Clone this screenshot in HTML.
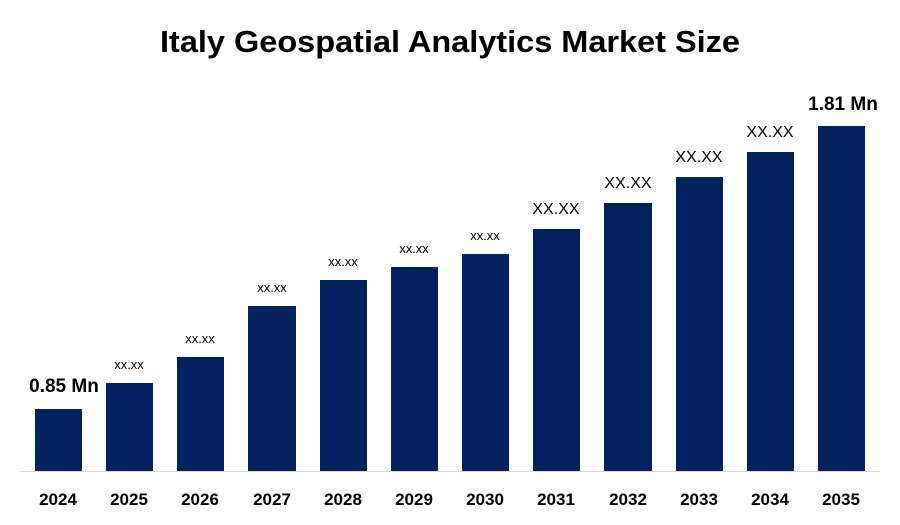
<!DOCTYPE html>
<html><head><meta charset="utf-8"><style>
html,body{margin:0;padding:0;background:#fff;}
svg{display:block;font-family:"Liberation Sans",Arial,sans-serif;}
</style></head><body>
<svg width="900" height="525" viewBox="0 0 900 525">
<rect width="900" height="525" fill="#fff"/>
<text x="450" y="52" text-anchor="middle" font-size="31" font-weight="bold" fill="#000" textLength="580" lengthAdjust="spacingAndGlyphs">Italy Geospatial Analytics Market Size</text>
<g fill="#03215E">
<rect x="35" y="409" width="47" height="62"/>
<rect x="106" y="383" width="47" height="88"/>
<rect x="177" y="357" width="47" height="114"/>
<rect x="248" y="306" width="48" height="165"/>
<rect x="320" y="280" width="47" height="191"/>
<rect x="391" y="267" width="47" height="204"/>
<rect x="462" y="254" width="47" height="217"/>
<rect x="533" y="229" width="47" height="242"/>
<rect x="604" y="203" width="48" height="268"/>
<rect x="676" y="177" width="47" height="294"/>
<rect x="747" y="152" width="47" height="319"/>
<rect x="818" y="126" width="47" height="345"/>
</g>
<line x1="20" y1="471.5" x2="880" y2="471.5" stroke="#d9d9d9" stroke-width="1"/>
<g font-size="17" font-weight="bold" text-anchor="middle" fill="#000">
<text x="58" y="505">2024</text><text x="129" y="505">2025</text><text x="200" y="505">2026</text>
<text x="272" y="505">2027</text><text x="343" y="505">2028</text><text x="414" y="505">2029</text>
<text x="485" y="505">2030</text><text x="556" y="505">2031</text><text x="628" y="505">2032</text>
<text x="699" y="505">2033</text><text x="770" y="505">2034</text><text x="841" y="505">2035</text>
</g>
<g text-anchor="middle" fill="#000">
<text x="64" y="392" font-size="19" font-weight="bold">0.85 Mn</text>
<text x="129" y="369" font-size="13">xx.xx</text>
<text x="200" y="343" font-size="13">xx.xx</text>
<text x="272" y="292" font-size="13">xx.xx</text>
<text x="343" y="266" font-size="13">xx.xx</text>
<text x="414" y="253" font-size="13">xx.xx</text>
<text x="485" y="240" font-size="13">xx.xx</text>
<text x="556" y="214" font-size="16">XX.XX</text>
<text x="628" y="188" font-size="16">XX.XX</text>
<text x="699" y="162" font-size="16">XX.XX</text>
<text x="770" y="137" font-size="16">XX.XX</text>
<text x="843" y="110" font-size="19" font-weight="bold">1.81 Mn</text>
</g>
</svg>
</body></html>
